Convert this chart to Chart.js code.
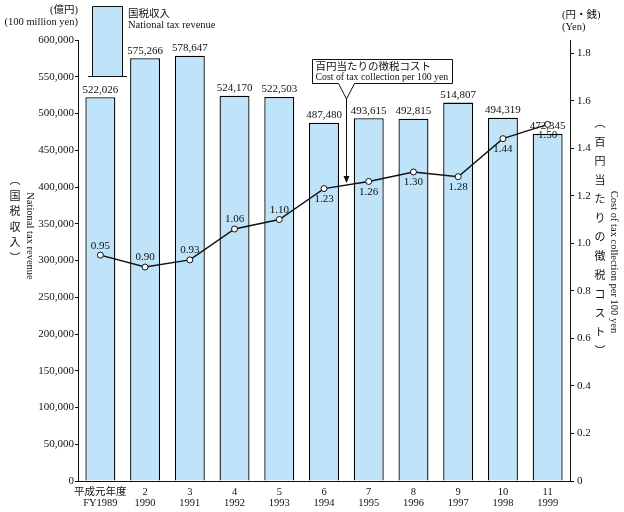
<!DOCTYPE html>
<html>
<head>
<meta charset="utf-8">
<script src="https://cdn.jsdelivr.net/npm/chart.js@4.4.1/dist/chart.umd.min.js"></script>
<style>
  body { margin: 0; background: #fff; }
  canvas { display: block; }
</style>
</head>
<body>
<canvas id="taxChart" width="624" height="512"></canvas>
<script>
const years = [
    ['平成元年度', 'FY1989'], ['2', '1990'], ['3', '1991'], ['4', '1992'],
    ['5', '1993'], ['6', '1994'], ['7', '1995'], ['8', '1996'],
    ['9', '1997'], ['10', '1998'], ['11', '1999']
];
const taxRevenue = [522026, 575266, 578647, 524170, 522503, 487480, 493615, 492815, 514807, 494319, 472345];
const collectionCost = [0.95, 0.90, 0.93, 1.06, 1.10, 1.23, 1.26, 1.30, 1.28, 1.44, 1.50];
const costLabelBelow = [false, false, false, false, false, true, true, true, true, true, true];

const SERIF = "'Liberation Serif', 'Noto Sans CJK JP', serif";
const CJK = "'Noto Sans CJK JP', sans-serif";
const BAR_FILL = '#bfe3f9';
const INK = '#111';

function fmt(v) {
    return v.toLocaleString('en-US');
}

function verticalText(ctx, chars, x, y0, step, font) {
    ctx.font = font;
    ctx.textAlign = 'center';
    ctx.textBaseline = 'middle';
    chars.forEach((c, i) => ctx.fillText(c, x, y0 + i * step));
}

function rotatedText(ctx, text, x, y, font) {
    ctx.save();
    ctx.translate(x, y);
    ctx.rotate(Math.PI / 2);
    ctx.font = font;
    ctx.textAlign = 'center';
    ctx.textBaseline = 'middle';
    ctx.fillText(text, 0, 0);
    ctx.restore();
}

const decorations = {
    id: 'decorations',
    afterDatasetsDraw(chart) {
        const ctx = chart.ctx;
        const xs = chart.scales.x;
        const y1 = chart.scales.y1;
        ctx.save();
        ctx.fillStyle = INK;

        // values above bars (dataset 1 = bars)
        ctx.font = '11px ' + SERIF;
        ctx.textAlign = 'center';
        ctx.textBaseline = 'bottom';
        chart.getDatasetMeta(1).data.forEach((bar, i) => {
            ctx.fillText(fmt(taxRevenue[i]), bar.x, bar.y - 2);
        });

        // values near line points (dataset 0 = line)
        chart.getDatasetMeta(0).data.forEach((pt, i) => {
            const txt = collectionCost[i].toFixed(2);
            if (costLabelBelow[i]) {
                ctx.textBaseline = 'top';
                ctx.fillText(txt, pt.x, pt.y + 5);
            } else {
                ctx.textBaseline = 'bottom';
                ctx.fillText(txt, pt.x, pt.y - 4);
            }
        });

        // unit captions
        ctx.font = '10.5px ' + SERIF;
        ctx.textAlign = 'right';
        ctx.textBaseline = 'middle';
        ctx.fillText('(億円)', 78, 10);
        ctx.fillText('(100 million yen)', 78, 22);
        ctx.textAlign = 'left';
        ctx.fillText('(円・銭)', 562, 15);
        ctx.fillText('(Yen)', 562, 27);

        // legend swatch
        ctx.fillStyle = BAR_FILL;
        ctx.fillRect(92, 6, 31, 70);
        ctx.strokeStyle = INK;
        ctx.lineWidth = 1;
        ctx.beginPath();
        ctx.moveTo(92.5, 76);
        ctx.lineTo(92.5, 6.5);
        ctx.lineTo(122.5, 6.5);
        ctx.lineTo(122.5, 76);
        ctx.moveTo(88, 76.5);
        ctx.lineTo(127, 76.5);
        ctx.stroke();
        ctx.fillStyle = INK;
        ctx.textAlign = 'left';
        ctx.font = '10.5px ' + CJK;
        ctx.fillText('国税収入', 128, 13);
        ctx.font = '10.5px ' + SERIF;
        ctx.fillText('National tax revenue', 128, 25);

        // callout for the cost line
        const ax = Math.round(xs.getPixelForValue(5.5)) + 0.5;
        const ay = y1.getPixelForValue((collectionCost[5] + collectionCost[6]) / 2) - 2;
        const bx0 = 312.5, bx1 = 452.5, by0 = 59.5, by1 = 83.5;
        ctx.fillStyle = '#fff';
        ctx.beginPath();
        ctx.moveTo(bx0, by0);
        ctx.lineTo(bx1, by0);
        ctx.lineTo(bx1, by1);
        ctx.lineTo(ax + 8, by1);
        ctx.lineTo(ax, 99);
        ctx.lineTo(ax - 8, by1);
        ctx.lineTo(bx0, by1);
        ctx.closePath();
        ctx.fill();
        ctx.stroke();
        ctx.beginPath();
        ctx.moveTo(ax, 99);
        ctx.lineTo(ax, ay - 6);
        ctx.stroke();
        ctx.fillStyle = INK;
        ctx.beginPath();
        ctx.moveTo(ax - 3, ay - 7);
        ctx.lineTo(ax + 3, ay - 7);
        ctx.lineTo(ax, ay);
        ctx.closePath();
        ctx.fill();
        ctx.textAlign = 'left';
        ctx.font = '10.5px ' + CJK;
        ctx.fillText('百円当たりの徴税コスト', bx0 + 3, 66);
        ctx.font = '9.8px ' + SERIF;
        ctx.fillText('Cost of tax collection per 100 yen', bx0 + 3, 77);

        // axis titles
        verticalText(ctx, ['︵', '国', '税', '収', '入', '︶'], 15, 180, 15.5, '11px ' + CJK);
        rotatedText(ctx, 'National tax revenue', 30, 236, '10.5px ' + SERIF);
        verticalText(ctx, ['︵', '百', '円', '当', 'た', 'り', 'の', '徴', '税', 'コ', 'ス', 'ト', '︶'],
            600, 123, 19, '11px ' + CJK);
        rotatedText(ctx, 'Cost of tax collection per 100 yen', 614, 262, '10.5px ' + SERIF);

        ctx.restore();
    }
};

new Chart(document.getElementById('taxChart'), {
    data: {
        labels: years,
        datasets: [
            {
                type: 'line',
                label: 'Cost of tax collection per 100 yen',
                data: collectionCost,
                yAxisID: 'y1',
                borderColor: INK,
                borderWidth: 1.4,
                pointRadius: 3,
                pointBackgroundColor: '#fff',
                pointBorderColor: INK,
                pointBorderWidth: 1,
                tension: 0,
                order: 0,
            },
            {
                type: 'bar',
                label: 'National tax revenue',
                data: taxRevenue,
                yAxisID: 'y',
                backgroundColor: BAR_FILL,
                borderColor: '#000',
                borderWidth: { top: 1.3, left: 1.3, right: 1.3, bottom: 0 },
                barPercentage: 0.67,
                categoryPercentage: 1,
                order: 1,
            },
        ]
    },
    options: {
        responsive: false,
        animation: false,
        layout: { padding: { top: 40, left: 0, right: 0, bottom: 0 } },
        plugins: {
            legend: { display: false },
            tooltip: { enabled: false },
        },
        scales: {
            x: {
                grid: { display: false, drawTicks: false },
                border: { display: true, color: INK, width: 1 },
                ticks: {
                    color: INK,
                    font: { family: SERIF, size: 10.5, lineHeight: 1.1 },
                    padding: 5,
                    maxRotation: 0,
                    autoSkip: false,
                },
                afterFit: s => { s.height = 31; },
            },
            y: {
                position: 'left',
                min: 0,
                max: 600000,
                grid: { drawOnChartArea: false, drawTicks: true, tickLength: 3, color: INK },
                border: { display: true, color: INK, width: 1 },
                ticks: {
                    stepSize: 50000,
                    color: INK,
                    padding: 1,
                    font: { family: SERIF, size: 11 },
                    callback: v => fmt(v),
                },
                afterFit: s => { s.width = 78; },
            },
            y1: {
                position: 'right',
                min: 0,
                max: 1.855,
                grid: { drawOnChartArea: false, drawTicks: true, tickLength: 4, color: INK },
                border: { display: true, color: INK, width: 1 },
                ticks: {
                    stepSize: 0.2,
                    color: INK,
                    padding: 3,
                    font: { family: SERIF, size: 11 },
                    callback: v => (v === 0 ? '0' : v.toFixed(1)),
                },
                afterBuildTicks: s => {
                    s.ticks = s.ticks.filter(t => Math.abs(t.value * 5 - Math.round(t.value * 5)) < 1e-6);
                },
                afterFit: s => { s.width = 54; },
            },
        }
    },
    plugins: [decorations]
});
</script>
</body>
</html>
